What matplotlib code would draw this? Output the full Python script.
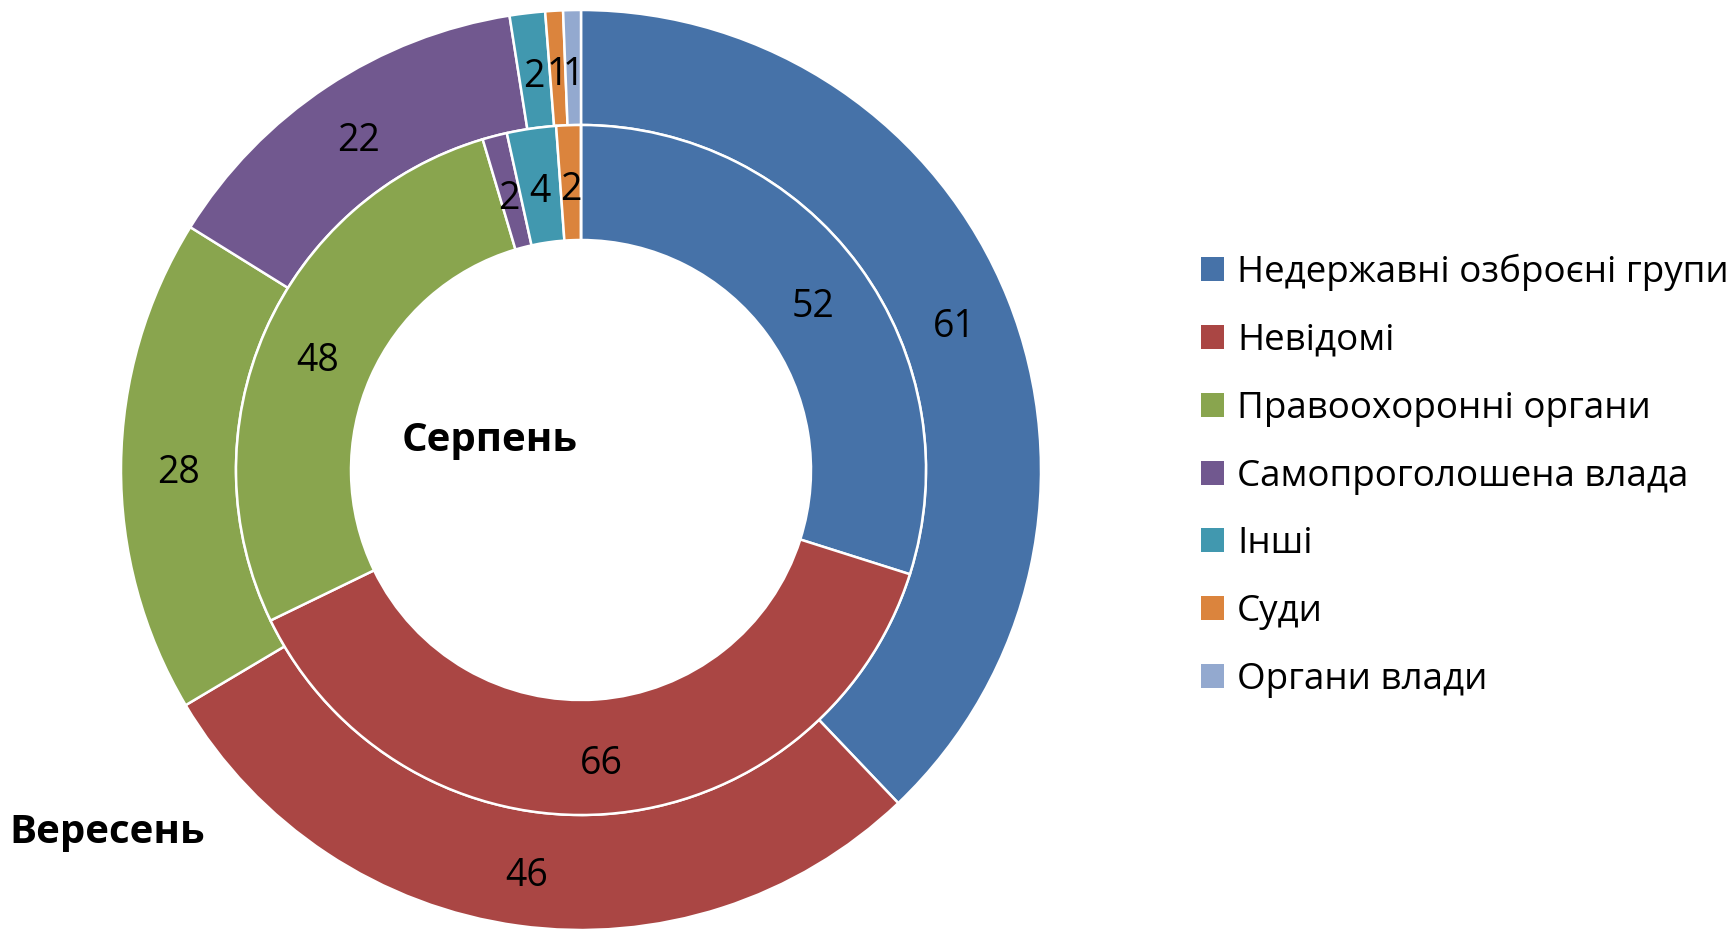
import matplotlib
matplotlib.use("Agg")
import matplotlib.pyplot as plt
from matplotlib.patches import Patch
import numpy as np

plt.rcParams['font.family'] = ['Open Sans', 'DejaVu Sans']

categories = ["Недержавні озброєні групи", "Невідомі", "Правоохоронні органи",
              "Самопроголошена влада", "Інші", "Суди", "Органи влади"]
september = [61, 46, 28, 22, 2, 1, 1]   # outer ring (Вересень)
august = [52, 66, 48, 2, 4, 2, 0]       # inner ring (Серпень)
colors = ["#4672A8", "#AA4644", "#89A54E", "#71588F", "#4198AF", "#DB843D", "#93A9CF"]

W, H = 1736, 931
fig = plt.figure(figsize=(W / 100, H / 100), dpi=100)
cx, cy, R = 581, 470, 460
ax = fig.add_axes([(cx - R) / W, (H - cy - R) / H, 2 * R / W, 2 * R / H])
ax.set_aspect('equal')
ax.axis('off')

wedge_kw = dict(edgecolor='white', linewidth=1.8)

def ring(values, radius, width, lab_r):
    ax.pie(values, radius=radius, colors=colors, startangle=90,
           counterclock=False, wedgeprops=dict(width=width, **wedge_kw),
           normalize=True)
    tot = sum(values)
    cum = 0
    for v in values:
        if v > 0:
            mid = (cum + v / 2) / tot * 2 * np.pi
            x = lab_r * np.sin(mid)
            y = lab_r * np.cos(mid)
            ax.annotate(str(v), (x, y), xytext=(0, -5), textcoords='offset points',
                        ha='center', va='center', fontsize=27, color='black')
        cum += v

ring(september, 1.0, 0.25, 0.875)
ring(august, 0.75, 0.25, 0.625)
ax.set_xlim(-1, 1)
ax.set_ylim(-1, 1)

fig.text(490 / W, 1 - 440 / H, "Серпень", ha='center', va='center',
         fontsize=29, fontweight='bold')
fig.text(107 / W, 1 - 833 / H, "Вересень", ha='center', va='center',
         fontsize=29, fontweight='bold')

handles = [Patch(facecolor=c, edgecolor='none') for c in colors]
leg = fig.legend(handles, categories, loc='upper left',
                 bbox_to_anchor=(1186 / W, 1 - 239 / H), frameon=False,
                 fontsize=26.5, handlelength=0.63, handleheight=0.63,
                 handletextpad=0.36, labelspacing=0.865, borderaxespad=0)

fig.savefig("out.png", dpi=100)
